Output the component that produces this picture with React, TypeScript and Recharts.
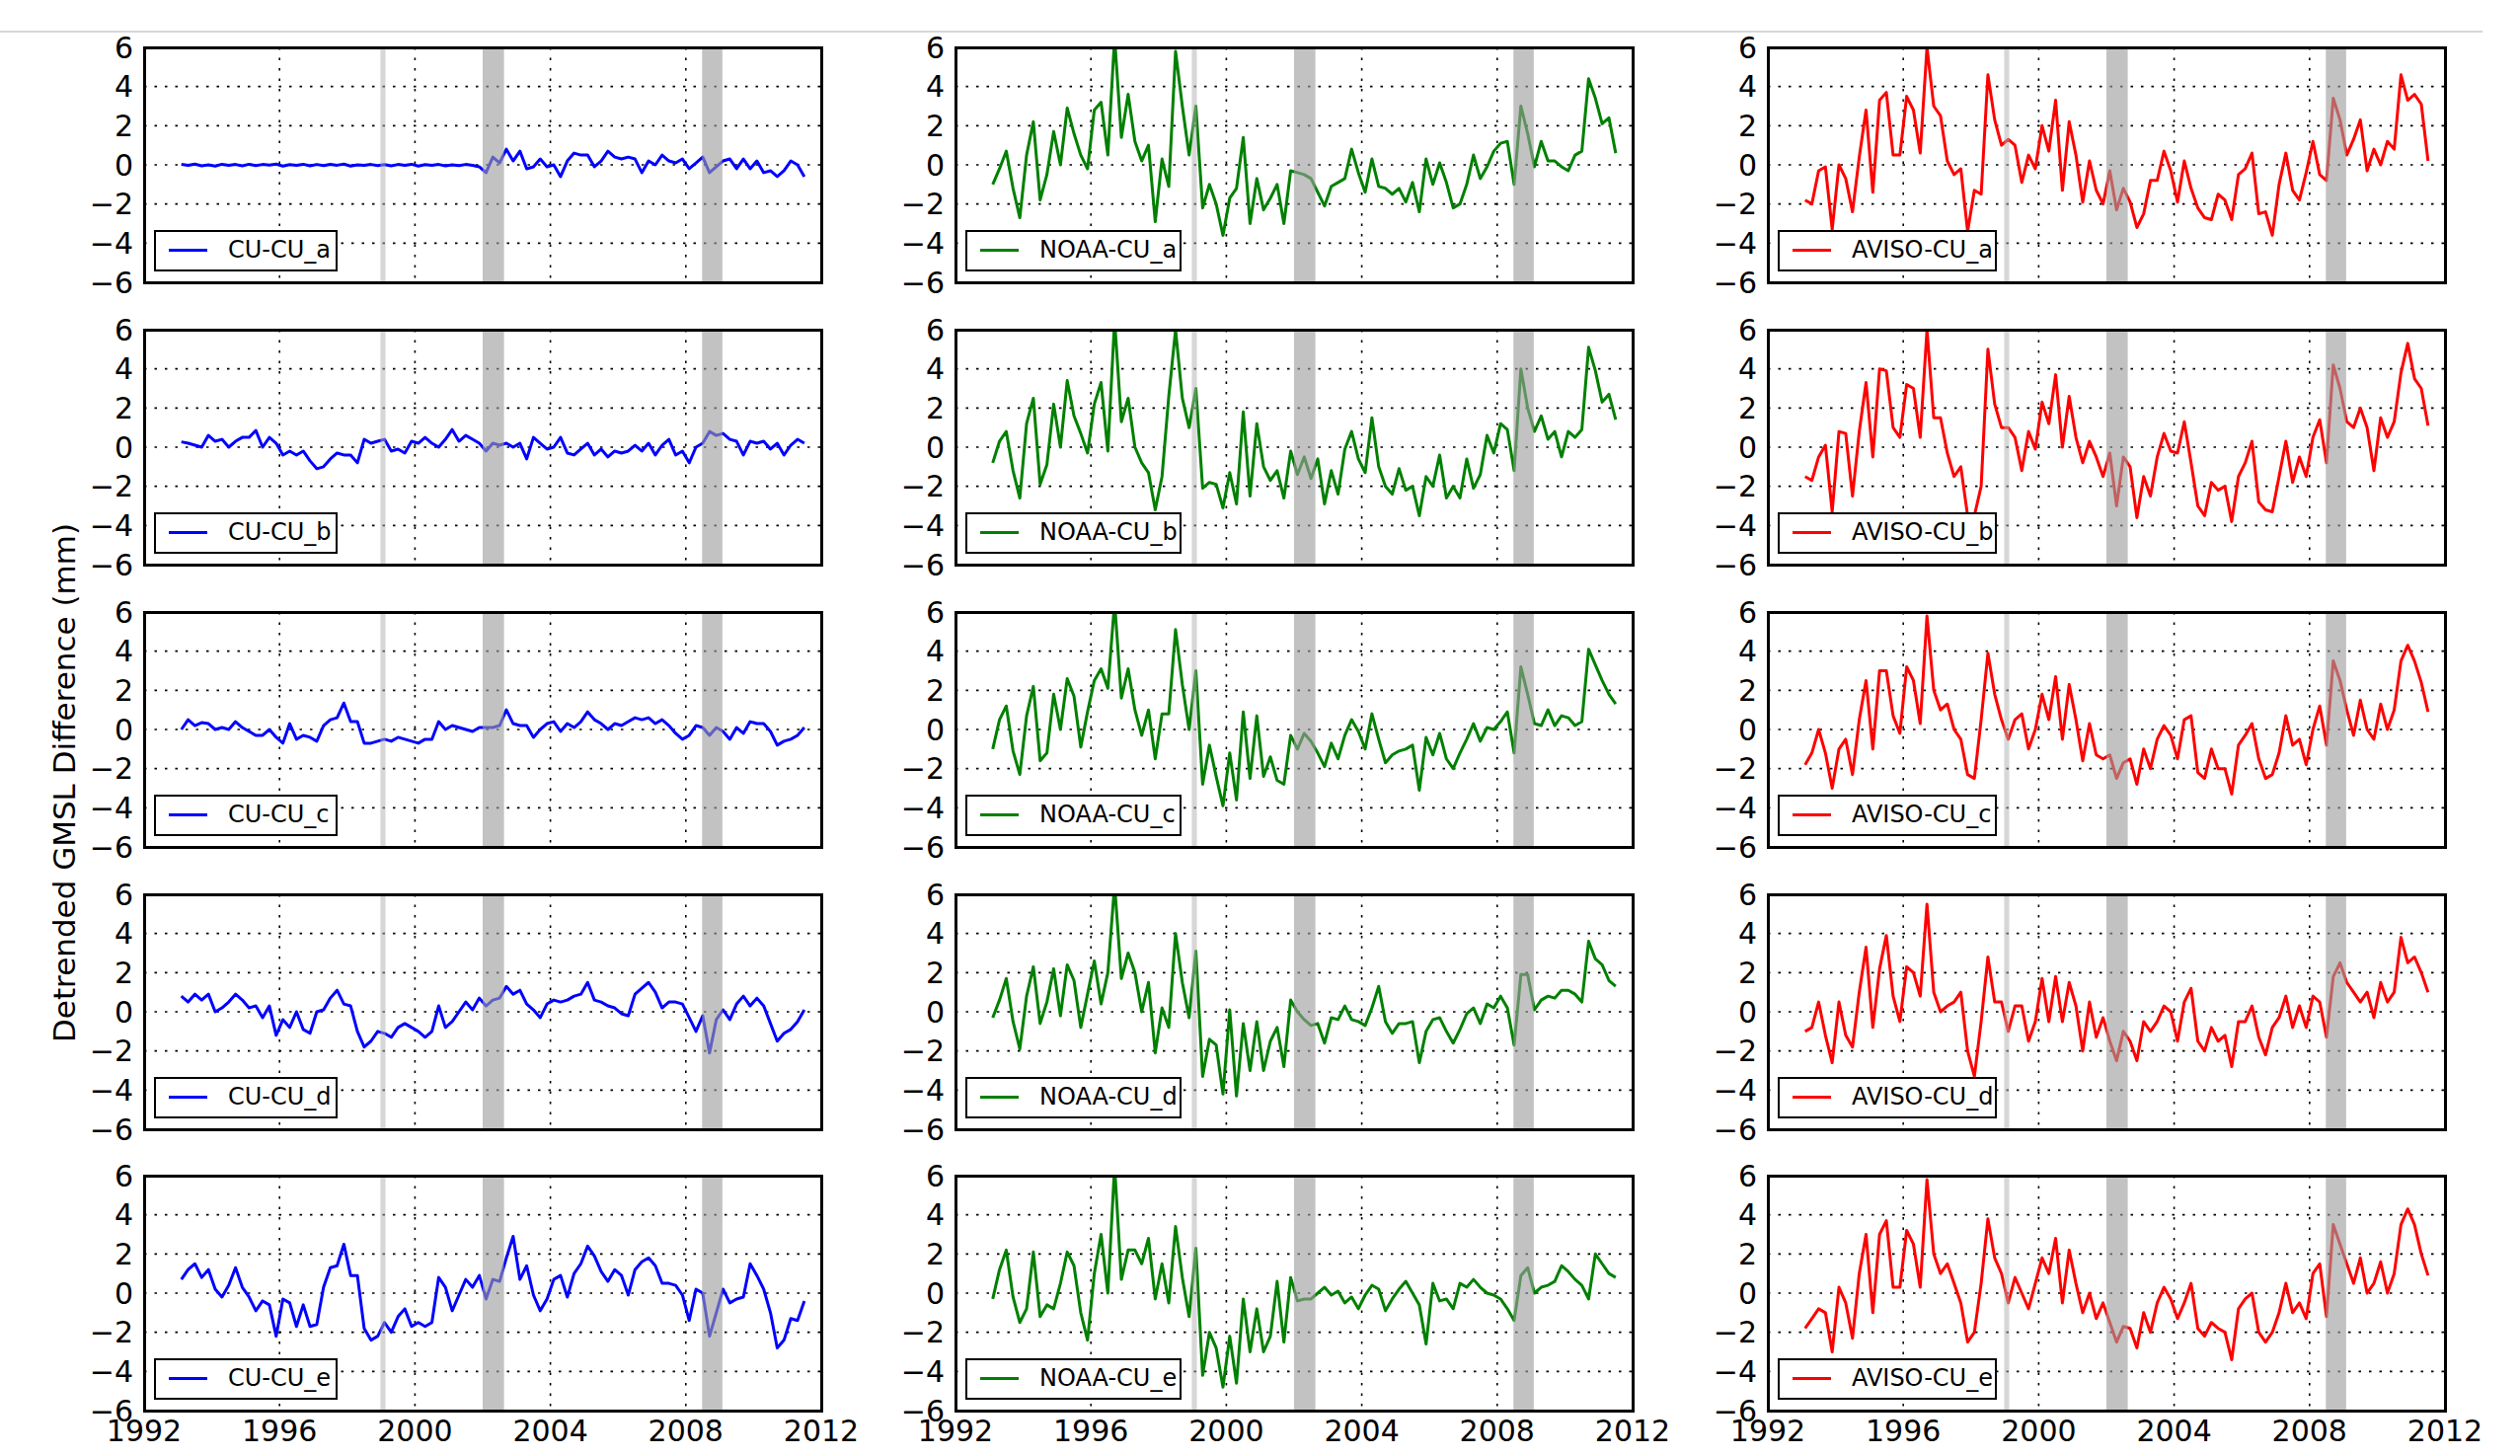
import React from "react";
import { LineChart, Line, XAxis, YAxis, CartesianGrid, ReferenceArea } from "recharts";

// Sampling grid of every series: decimal years starting at T0, one value every STEP years
const T0 = 1993.1;
const STEP = 0.2;

// Detrended GMSL differences (mm), one row per year
const cuA = [
  0.02, -0.03, 0.04, -0.05, 0.0,
  -0.06, 0.03, -0.02, 0.02, -0.05,
  0.03, -0.04, 0.02, -0.01, 0.04,
  -0.06, 0.01, -0.02, 0.03, -0.05,
  0.02, -0.04, 0.03, -0.02, 0.04,
  -0.06, 0.0, -0.03, 0.02, -0.04,
  0.01, -0.05, 0.02, -0.03, 0.03,
  -0.06, 0.01, -0.02, 0.02, -0.05,
  0.0, -0.04, 0.02, -0.03, -0.1,
  -0.4, 0.4, 0.1, 0.8, 0.2,
  0.7, -0.2, -0.1, 0.3, -0.1,
  0.0, -0.6, 0.2, 0.6, 0.5,
  0.5, -0.1, 0.2, 0.7, 0.4,
  0.3, 0.4, 0.3, -0.4, 0.2,
  0.0, 0.5, 0.2, 0.1, 0.3,
  -0.2, 0.1, 0.4, -0.4, -0.1,
  0.2, 0.3, -0.2, 0.3, -0.2,
  0.2, -0.4, -0.3, -0.6, -0.3,
  0.2, 0.0, -0.6,
];

const cuB = [
  0.27, 0.2, 0.1, 0.0, 0.6,
  0.3, 0.4, 0.0, 0.3, 0.5,
  0.5, 0.85, 0.0, 0.5, 0.2,
  -0.4, -0.2, -0.4, -0.2, -0.7,
  -1.1, -1.0, -0.6, -0.3, -0.4,
  -0.4, -0.8, 0.4, 0.2, 0.3,
  0.4, -0.2, -0.1, -0.3, 0.3,
  0.2, 0.5, 0.2, 0.0, 0.4,
  0.9, 0.3, 0.6, 0.4, 0.2,
  -0.2, 0.2, 0.1, 0.2, 0.0,
  0.2, -0.6, 0.5, 0.2, -0.1,
  0.0, 0.5, -0.3, -0.4, -0.1,
  0.2, -0.4, -0.1, -0.5, -0.2,
  -0.3, -0.2, 0.1, -0.2, 0.2,
  -0.4, 0.1, 0.4, -0.4, -0.2,
  -0.8, 0.0, 0.2, 0.8, 0.6,
  0.7, 0.4, 0.3, -0.4, 0.3,
  0.2, 0.3, -0.1, 0.2, -0.4,
  0.1, 0.4, 0.2,
];

const cuC = [
  0.0, 0.5, 0.2, 0.35, 0.3,
  0.0, 0.1, 0.0, 0.4, 0.1,
  -0.1, -0.3, -0.3, 0.0, -0.4,
  -0.7, 0.3, -0.5, -0.3, -0.4,
  -0.6, 0.2, 0.5, 0.6, 1.35,
  0.4, 0.4, -0.7, -0.7, -0.6,
  -0.5, -0.6, -0.4, -0.5, -0.6,
  -0.7, -0.5, -0.5, 0.4, 0.0,
  0.2, 0.1, 0.0, -0.1, 0.1,
  0.1, 0.1, 0.2, 1.0, 0.3,
  0.2, 0.2, -0.4, 0.0, 0.3,
  0.4, -0.1, 0.3, 0.1, 0.4,
  0.9, 0.5, 0.3, 0.0, 0.3,
  0.2, 0.4, 0.6, 0.5, 0.6,
  0.3, 0.5, 0.2, -0.2, -0.5,
  -0.3, 0.2, 0.1, -0.3, 0.1,
  -0.1, -0.5, 0.1, -0.2, 0.4,
  0.3, 0.3, -0.1, -0.8, -0.6,
  -0.5, -0.3, 0.1,
];

const cuD = [
  0.8, 0.5, 0.9, 0.6, 0.9,
  0.0, 0.2, 0.5, 0.9, 0.6,
  0.2, 0.3, -0.3, 0.3, -1.2,
  -0.4, -0.8, 0.0, -0.9, -1.1,
  0.0, 0.1, 0.7, 1.1, 0.4,
  0.3, -1.0, -1.8, -1.5, -1.0,
  -1.1, -1.3, -0.8, -0.6, -0.8,
  -1.0, -1.3, -1.0, 0.3, -0.8,
  -0.5, 0.0, 0.5, 0.1, 0.7,
  0.3, 0.6, 0.7, 1.3, 0.9,
  1.1, 0.4, 0.1, -0.3, 0.4,
  0.6, 0.5, 0.6, 0.8, 0.9,
  1.5, 0.6, 0.5, 0.3, 0.2,
  -0.1, -0.2, 0.9, 1.2, 1.5,
  1.0, 0.2, 0.5, 0.5, 0.4,
  -0.3, -1.0, -0.2, -2.1, -0.4,
  0.1, -0.4, 0.4, 0.8, 0.3,
  0.7, 0.3, -0.6, -1.5, -1.1,
  -0.9, -0.5, 0.1,
];

const cuE = [
  0.7, 1.2, 1.5, 0.8, 1.2,
  0.2, -0.2, 0.4, 1.3, 0.3,
  -0.2, -0.9, -0.4, -0.6, -2.2,
  -0.3, -0.5, -1.7, -0.6, -1.7,
  -1.6, 0.3, 1.3, 1.4, 2.5,
  0.9, 0.9, -1.8, -2.4, -2.2,
  -1.5, -2.0, -1.2, -0.8, -1.7,
  -1.5, -1.7, -1.5, 0.8, 0.3,
  -0.9, -0.1, 0.7, 0.3, 0.9,
  -0.3, 0.7, 0.6, 1.8, 2.9,
  0.7, 1.4, -0.1, -0.9, -0.3,
  0.7, 0.9, -0.2, 1.0, 1.5,
  2.4, 1.9, 1.1, 0.6, 1.2,
  0.9, -0.1, 1.2, 1.6, 1.8,
  1.4, 0.5, 0.5, 0.4, -0.1,
  -1.4, 0.2, 0.0, -2.2, -1.0,
  0.2, -0.5, -0.3, -0.2, 1.5,
  0.9, 0.2, -1.0, -2.8, -2.4,
  -1.3, -1.4, -0.4,
];

const noaaA = [
  -1.0, -0.2, 0.7, -1.2, -2.7,
  0.5, 2.2, -1.8, -0.5, 1.7,
  0.0, 2.9, 1.6, 0.5, -0.2,
  2.8, 3.2, 0.5, 6.5, 1.4,
  3.6, 1.2, 0.2, 1.0, -2.9,
  0.3, -1.1, 5.8, 3.0, 0.5,
  3.0, -2.2, -1.0, -2.0, -3.6,
  -1.7, -1.2, 1.4, -3.0, -0.7,
  -2.3, -1.7, -1.0, -3.0, -0.3,
  -0.4, -0.5, -0.7, -1.4, -2.1,
  -1.1, -0.9, -0.7, 0.8, -0.4,
  -1.4, 0.3, -1.1, -1.2, -1.5,
  -1.2, -1.9, -0.9, -2.4, 0.3,
  -1.0, 0.1, -0.9, -2.2, -2.0,
  -1.0, 0.5, -0.7, -0.1, 0.7,
  1.1, 1.2, -1.0, 3.0, 1.6,
  -0.1, 1.2, 0.2, 0.2, -0.1,
  -0.3, 0.5, 0.7, 4.4, 3.4,
  2.1, 2.4, 0.6,
];

const noaaB = [
  -0.8, 0.3, 0.8, -1.2, -2.6,
  1.2, 2.5, -1.9, -0.9, 2.2,
  0.0, 3.4, 1.6, 0.7, -0.3,
  2.2, 3.3, -0.2, 6.5, 1.3,
  2.5, 0.0, -0.8, -1.3, -3.2,
  -1.5, 2.6, 6.0, 2.5, 1.0,
  3.0, -2.1, -1.8, -1.9, -3.1,
  -1.3, -2.9, 1.8, -2.5, 1.2,
  -1.0, -1.7, -1.2, -2.6, -0.2,
  -1.4, -0.5, -1.6, -0.6, -2.9,
  -1.2, -2.4, -0.1, 0.8, -0.6,
  -1.3, 1.5, -1.0, -2.0, -2.4,
  -1.1, -2.2, -2.0, -3.5, -1.5,
  -2.0, -0.4, -2.6, -2.0, -2.6,
  -0.6, -2.1, -1.4, 0.6, -0.3,
  1.2, 0.9, -1.2, 4.0, 2.0,
  0.8, 1.6, 0.4, 0.8, -0.5,
  0.8, 0.5, 0.9, 5.1, 3.9,
  2.3, 2.7, 1.4,
];

const noaaC = [
  -1.0, 0.5, 1.2, -1.1, -2.3,
  0.7, 2.2, -1.6, -1.2, 1.8,
  0.0, 2.6, 1.7, -0.9, 0.9,
  2.5, 3.1, 2.1, 6.5, 1.6,
  3.1, 1.0, -0.3, 1.0, -1.5,
  0.8, 0.8, 5.1, 2.3, 0.0,
  3.0, -2.8, -0.8, -2.4, -3.9,
  -1.2, -3.6, 0.9, -2.5, 0.7,
  -2.4, -1.4, -2.6, -2.8, -0.3,
  -1.0, -0.2, -0.6, -1.2, -1.9,
  -0.7, -1.5, -0.3, 0.5, -0.1,
  -1.0, 0.8, -0.5, -1.7, -1.3,
  -1.1, -1.0, -0.8, -3.1, -0.4,
  -1.3, -0.2, -1.5, -2.0, -1.2,
  -0.5, 0.3, -0.6, 0.1, 0.0,
  0.4, 0.9, -1.2, 3.2, 1.8,
  0.3, 0.2, 1.0, 0.2, 0.7,
  0.6, 0.2, 0.4, 4.1, 3.3,
  2.5, 1.8, 1.3,
];

const noaaD = [
  -0.3, 0.6, 1.7, -0.5, -1.9,
  0.8, 2.3, -0.6, 0.5, 2.2,
  -0.2, 2.4, 1.6, -0.8, 0.9,
  2.6, 0.4, 2.0, 6.5, 1.7,
  3.0, 2.0, 0.0, 1.5, -2.1,
  0.2, -0.8, 4.0, 1.5, -0.3,
  3.1, -3.3, -1.4, -1.7, -4.2,
  0.1, -4.3, -0.6, -3.0, -0.5,
  -3.0, -1.5, -0.8, -2.8, 0.6,
  0.0, -0.4, -0.7, -0.6, -1.6,
  -0.3, -0.4, 0.3, -0.4, -0.5,
  -0.7, 0.2, 1.3, -0.5, -1.1,
  -0.6, -0.6, -0.5, -2.6, -1.0,
  -0.4, -0.3, -1.0, -1.6, -0.9,
  -0.1, 0.2, -0.6, 0.4, 0.2,
  0.8, 0.2, -1.7, 1.9, 1.9,
  0.1, 0.6, 0.8, 0.7, 1.1,
  1.1, 0.9, 0.5, 3.6, 2.7,
  2.4, 1.6, 1.3,
];

const noaaE = [
  -0.3, 1.2, 2.2, -0.2, -1.5,
  -0.8, 2.1, -1.2, -0.6, -0.8,
  0.5, 2.1, 1.4, -1.0, -2.4,
  1.0, 3.0, 0.0, 6.5, 0.7,
  2.2, 2.2, 1.5, 2.8, -0.3,
  1.5, -0.5, 3.4, 0.8, -1.2,
  2.3, -4.2, -2.0, -2.8, -4.8,
  -2.2, -4.6, -0.3, -3.0, -0.8,
  -3.0, -2.2, 0.6, -2.5, 0.8,
  -0.4, -0.3, -0.3, 0.0, 0.3,
  -0.1, 0.1, -0.5, -0.2, -0.8,
  -0.1, 0.4, 0.2, -0.9, -0.3,
  0.2, 0.6, 0.0, -0.6, -2.6,
  0.5, -0.4, -0.3, -0.8, 0.5,
  0.3, 0.7, 0.3, 0.0, -0.1,
  -0.3, -0.8, -1.4, 0.9, 1.3,
  0.0, 0.3, 0.4, 0.6, 1.4,
  1.1, 0.7, 0.4, -0.3, 2.0,
  1.5, 1.0, 0.8,
];

const avisoA = [
  -1.8, -2.0, -0.3, -0.1, -3.3,
  0.0, -0.7, -2.4, 0.4, 2.8,
  -1.4, 3.3, 3.7, 0.5, 0.5,
  3.5, 2.8, 0.6, 6.0, 3.0,
  2.5, 0.2, -0.5, -0.2, -3.4,
  -1.3, -1.5, 4.6, 2.3, 1.0,
  1.3, 1.0, -0.9, 0.5, -0.2,
  2.0, 0.7, 3.3, -1.3, 2.2,
  0.5, -1.9, 0.2, -1.3, -2.0,
  -0.3, -2.3, -1.2, -1.9, -3.2,
  -2.5, -0.8, -0.8, 0.7, -0.3,
  -1.9, 0.2, -1.2, -2.2, -2.7,
  -2.8, -1.5, -1.8, -2.8, -0.5,
  -0.2, 0.6, -2.5, -2.4, -3.6,
  -1.0, 0.6, -1.3, -1.8, -0.4,
  1.2, -0.5, -0.8, 3.4, 2.3,
  0.5, 1.3, 2.3, -0.3, 0.8,
  0.0, 1.2, 0.8, 4.6, 3.3,
  3.6, 3.1, 0.2,
];

const avisoB = [
  -1.5, -1.7, -0.5, 0.1, -3.3,
  0.8, 0.7, -2.5, 0.8, 3.3,
  -0.5, 4.0, 3.9, 1.0, 0.5,
  3.2, 3.0, 0.5, 6.0, 1.5,
  1.5, -0.3, -1.5, -1.0, -3.5,
  -3.5, -2.0, 5.0, 2.2, 1.0,
  1.0, 0.5, -1.2, 0.8, -0.1,
  2.3, 1.2, 3.7, 0.0, 2.6,
  0.5, -0.8, 0.3, -0.5, -1.5,
  -0.3, -3.0, -0.5, -1.0, -3.6,
  -1.5, -2.5, -0.5, 0.7, -0.2,
  -0.3, 1.3, -0.8, -3.0, -3.5,
  -1.8, -2.2, -2.0, -3.8, -1.5,
  -0.8, 0.3, -2.8, -3.2, -3.3,
  -1.5, 0.3, -1.8, -0.5, -1.5,
  0.5, 1.4, -0.8, 4.2, 3.0,
  1.3, 1.0, 2.0, 1.0, -1.2,
  1.5, 0.5, 1.3, 3.8, 5.3,
  3.5, 3.0, 1.1,
];

const avisoC = [
  -1.8, -1.2, 0.0, -1.2, -3.0,
  -1.0, -0.5, -2.3, 0.5, 2.5,
  -1.0, 3.0, 3.0, 0.7, -0.2,
  3.2, 2.5, 0.3, 5.8, 2.0,
  1.0, 1.3, 0.0, -0.5, -2.3,
  -2.5, 0.5, 3.9, 1.8, 0.5,
  -0.5, 0.5, 0.8, -1.0, 0.0,
  1.8, 0.5, 2.7, -0.5, 2.3,
  0.5, -1.6, 0.3, -1.3, -1.5,
  -1.3, -2.5, -1.7, -1.5, -2.8,
  -1.0, -2.0, -0.5, 0.2, -0.3,
  -1.5, 0.5, 0.7, -2.2, -2.5,
  -1.0, -2.0, -2.0, -3.3, -0.8,
  -0.3, 0.3, -1.5, -2.5, -2.3,
  -1.2, 0.7, -0.8, -0.5, -1.8,
  0.0, 1.2, -0.8, 3.5, 2.5,
  1.0, -0.3, 1.5, 0.0, -0.5,
  1.3, 0.0, 1.0, 3.5, 4.3,
  3.5, 2.4, 0.9,
];

const avisoD = [
  -1.0, -0.8, 0.5, -1.2, -2.6,
  0.5, -1.2, -1.8, 1.0, 3.3,
  -0.8, 2.2, 3.9, 0.8, -0.5,
  2.3, 2.0, 0.8, 5.5, 1.0,
  0.0, 0.3, 0.5, 1.0, -2.0,
  -3.3, -0.5, 2.8, 0.5, 0.5,
  -1.0, 0.3, 0.3, -1.5, -0.5,
  1.7, -0.5, 1.8, -0.5, 1.5,
  0.3, -2.0, 0.5, -1.3, -0.3,
  -1.5, -2.5, -1.0, -1.5, -2.5,
  -0.5, -1.0, -0.5, 0.3, 0.0,
  -1.5, 0.5, 1.2, -1.5, -2.0,
  -0.8, -1.5, -1.2, -2.8, -0.5,
  -0.5, 0.3, -1.3, -2.2, -0.8,
  -0.3, 0.8, -0.8, 0.3, -0.8,
  0.8, 0.5, -1.3, 1.8, 2.5,
  1.5, 1.0, 0.5, 1.0, -0.3,
  1.5, 0.5, 1.0, 3.8, 2.5,
  2.8, 2.0, 1.0,
];

const avisoE = [
  -1.8, -1.3, -0.8, -1.0, -3.0,
  0.3, -0.5, -2.3, 1.0, 3.0,
  -1.0, 3.0, 3.7, 0.3, 0.3,
  3.2, 2.5, 0.3, 5.8, 2.0,
  1.0, 1.5, 0.5, -0.5, -2.5,
  -2.0, 0.5, 3.8, 1.8, 1.0,
  -0.5, 0.8, 0.0, -0.8, 0.5,
  1.8, 1.0, 2.8, -0.5, 2.2,
  0.5, -1.0, 0.0, -1.3, -0.5,
  -1.5, -2.5, -1.7, -1.8, -2.8,
  -1.0, -2.0, -0.5, 0.3, -0.3,
  -1.3, -0.5, 0.5, -1.8, -2.2,
  -1.5, -1.8, -2.0, -3.4, -0.8,
  -0.3, 0.0, -2.0, -2.5, -2.0,
  -1.0, 0.5, -1.0, -0.5, -1.3,
  1.0, 1.5, -1.2, 3.5, 2.5,
  1.5, 0.5, 1.8, 0.0, 0.5,
  1.6, 0.0, 1.0, 3.5, 4.3,
  3.5, 2.0, 0.9,
];

// Panel labels, by row
const cuNames = ["CU-CU_a", "CU-CU_b", "CU-CU_c", "CU-CU_d", "CU-CU_e"];
const noaaNames = ["NOAA-CU_a", "NOAA-CU_b", "NOAA-CU_c", "NOAA-CU_d", "NOAA-CU_e"];
const avisoNames = ["AVISO-CU_a", "AVISO-CU_b", "AVISO-CU_c", "AVISO-CU_d", "AVISO-CU_e"];

const yTicks = [-6, -4, -2, 0, 2, 4, 6];
const xTicks = [1992, 1996, 2000, 2004, 2008, 2012];

// Shaded time windows
const bands = [
  { x1: 1998.98, x2: 1999.13, fill: "#b0b0b0", opacity: 0.5 },
  { x1: 2002.0, x2: 2002.63, fill: "#9c9c9c", opacity: 0.62 },
  { x1: 2008.48, x2: 2009.08, fill: "#9c9c9c", opacity: 0.62 },
];

// Layout (px)
const PLOT_W = 686;
const PLOT_H = 238;
const COL_LEFT = [146, 968, 1791];
const ROW_TOP = [48, 334, 620, 906, 1191];
const ML = 140;
const MT = 24;
const MR = 44;
const XH = 50;
const LEGEND_W = [186, 219, 222];
const FONT = "'DejaVu Sans', sans-serif";

const fmt = (v: number) => (v < 0 ? "\u2212" + Math.abs(v) : String(v));

const YTick = (props: any) => {
  const { x, y, payload } = props;
  return (
    <text x={x} y={y} dy="0.36em" textAnchor="end" fontSize={30} fontFamily={FONT} fill="#000">
      {fmt(payload.value)}
    </text>
  );
};

const XTick = (props: any) => {
  const { x, y, payload } = props;
  return (
    <text x={x} y={y} dy="0.71em" textAnchor="middle" fontSize={30} fontFamily={FONT} fill="#000">
      {payload.value}
    </text>
  );
};

// Year ticks without labels (rows above the bottom one keep their grid lines)
const NoTick = () => <g />;

type PanelProps = {
  values: number[];
  color: string;
  name: string;
  col: number;
  row: number;
};

function Panel({ values, color, name, col, row }: PanelProps) {
  const data = values.map((v, i) => ({ t: Math.round((T0 + i * STEP) * 100) / 100, v }));
  const showX = row === 4;
  return (
    <div style={{ position: "absolute", left: COL_LEFT[col] - ML, top: ROW_TOP[row] - MT }}>
      <LineChart
        width={ML + PLOT_W + MR}
        height={MT + PLOT_H + XH}
        data={data}
        margin={{ top: MT, right: MR, bottom: 0, left: 0 }}
      >
        <CartesianGrid stroke="#000" strokeWidth={1.6} strokeDasharray="2.5 8" />
        <XAxis
          dataKey="t"
          type="number"
          domain={[1992, 2012]}
          ticks={xTicks}
          interval={0}
          allowDataOverflow
          height={XH}
          axisLine={false}
          tickLine={false}
          tickSize={0}
          tickMargin={10}
          tick={showX ? <XTick /> : <NoTick />}
        />
        <YAxis
          type="number"
          domain={[-6, 6]}
          ticks={yTicks}
          interval={0}
          allowDataOverflow
          width={ML}
          axisLine={false}
          tickLine={false}
          tickSize={0}
          tickMargin={11}
          tick={<YTick />}
        />
        <Line
          type="linear"
          dataKey="v"
          stroke={color}
          strokeWidth={3}
          strokeLinejoin="round"
          dot={false}
          activeDot={false}
          isAnimationActive={false}
        />
        {bands.map((b, i) => (
          <ReferenceArea
            key={i}
            x1={b.x1}
            x2={b.x2}
            y1={-6}
            y2={6}
            fill={b.fill}
            fillOpacity={b.opacity}
            stroke="none"
            zIndex={500}
          />
        ))}
      </LineChart>
      {/* plot frame */}
      <div
        style={{
          position: "absolute",
          left: ML - 1.5,
          top: MT - 1.5,
          width: PLOT_W + 3,
          height: PLOT_H + 3,
          border: "3px solid #000",
          boxSizing: "border-box",
          pointerEvents: "none",
        }}
      />
      {/* legend */}
      <div
        style={{
          position: "absolute",
          left: ML + 10,
          top: MT + PLOT_H - 11 - 42,
          width: LEGEND_W[col],
          height: 42,
          border: "2.5px solid #000",
          boxSizing: "border-box",
          background: "#fff",
        }}
      >
        <div
          style={{
            position: "absolute",
            left: 13,
            top: 17,
            width: 39,
            height: 0,
            borderTop: `3px solid ${color}`,
          }}
        />
        <div
          style={{
            position: "absolute",
            left: 73,
            top: 0,
            height: 37,
            lineHeight: "37px",
            fontFamily: FONT,
            fontSize: 24,
            color: "#000",
            whiteSpace: "nowrap",
          }}
        >
          {name}
        </div>
      </div>
    </div>
  );
}

const cuSeries = [cuA, cuB, cuC, cuD, cuE];
const noaaSeries = [noaaA, noaaB, noaaC, noaaD, noaaE];
const avisoSeries = [avisoA, avisoB, avisoC, avisoD, avisoE];

export default function App() {
  return (
    <div
      style={{
        position: "absolute",
        left: 0,
        top: 0,
        width: 2553,
        height: 1475,
        background: "#fff",
        overflow: "hidden",
      }}
    >
      <svg width={2553} height={1475} style={{ position: "absolute", left: 0, top: 0 }}>
        <line x1={0} y1={32} x2={2515} y2={32} stroke="#d6d6d6" strokeWidth={2} />
        <text
          x={65}
          y={793}
          transform="rotate(-90, 65, 793)"
          textAnchor="middle"
          dominantBaseline="central"
          fontFamily={FONT}
          fontSize={31}
          fill="#000"
        >
          Detrended GMSL Difference (mm)
        </text>
      </svg>
      {cuSeries.map((s, r) => (
        <Panel key={"cu" + r} values={s} color="#0000ff" name={cuNames[r]} col={0} row={r} />
      ))}
      {noaaSeries.map((s, r) => (
        <Panel key={"noaa" + r} values={s} color="#008000" name={noaaNames[r]} col={1} row={r} />
      ))}
      {avisoSeries.map((s, r) => (
        <Panel key={"aviso" + r} values={s} color="#ff0000" name={avisoNames[r]} col={2} row={r} />
      ))}
    </div>
  );
}
